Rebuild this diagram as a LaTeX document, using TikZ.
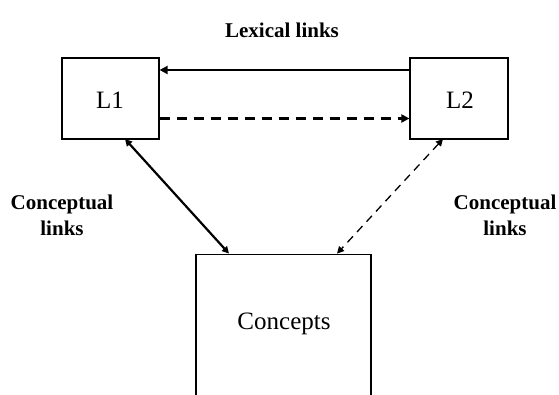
\documentclass[tikz,border=0pt]{standalone}
\usepackage{fontspec}
\setmainfont{Liberation Serif}
\usetikzlibrary{arrows.meta}
\begin{document}
\begin{tikzpicture}[x=1pt,y=-1pt,
  box/.style={draw,line width=1.2pt,inner sep=0pt},
  boxtext/.style={font=\fontsize{25}{28}\selectfont},
  lbl/.style={font=\bfseries\fontsize{21}{26}\selectfont,align=center},
  thick arrow/.style={line width=2.6pt,-{Triangle[length=8pt,width=8pt]}},
  dash arrow/.style={line width=2.4pt,dash pattern=on 10pt off 7pt,-{Triangle[length=8pt,width=8pt]}},
  thin dash/.style={line width=1.3pt,dash pattern=on 8pt off 6pt,{Triangle[length=7pt,width=7pt]}-{Triangle[length=7pt,width=7pt]}},
  thin solid/.style={line width=2.2pt,{Triangle[length=7pt,width=7pt]}-{Triangle[length=7pt,width=7pt]}}]
\clip (0,0) rectangle (559,395);
\useasboundingbox (0,0) rectangle (559,395);
\fill[white] (0,0) rectangle (559,395);
\node[box,minimum width=97pt,minimum height=81pt] (l1) at (110.5,98.5) {};
\node[boxtext] (l1t) at (110,100) {L1};
\node[box,minimum width=98pt,minimum height=81pt] (l2) at (459,98.5) {};
\node[boxtext] (l2t) at (460,100) {L2};
\node[box,anchor=north,minimum width=175pt,minimum height=160pt] (con) at (283.5,253.6) {};
\node[boxtext] (cont) at (284,324) {Concepts};
\node[lbl] (lex) at (282,30) {Lexical links};
\node[lbl] (cl1) at (62,215) {Conceptual\\links};
\node[lbl] (cl2) at (505,215) {Conceptual\\links};
\coordinate (a1) at (l2.west |- 0,70);
\coordinate (a2) at (l1.east |- 0,70);
\draw[thick arrow] (a1) -- (a2);
\coordinate (b1) at (l1.east |- 0,118.5);
\coordinate (b2) at (l2.west |- 0,118.5);
\draw[dash arrow] (b1) -- (b2);
\coordinate (c1) at (125,139);
\coordinate (c2) at (229,253.6);
\draw[thin solid] (c1) -- (c2);
\coordinate (d1) at (443,139);
\coordinate (d2) at (337,253.6);
\draw[thin dash] (d1) -- (d2);
\end{tikzpicture}
\end{document}
